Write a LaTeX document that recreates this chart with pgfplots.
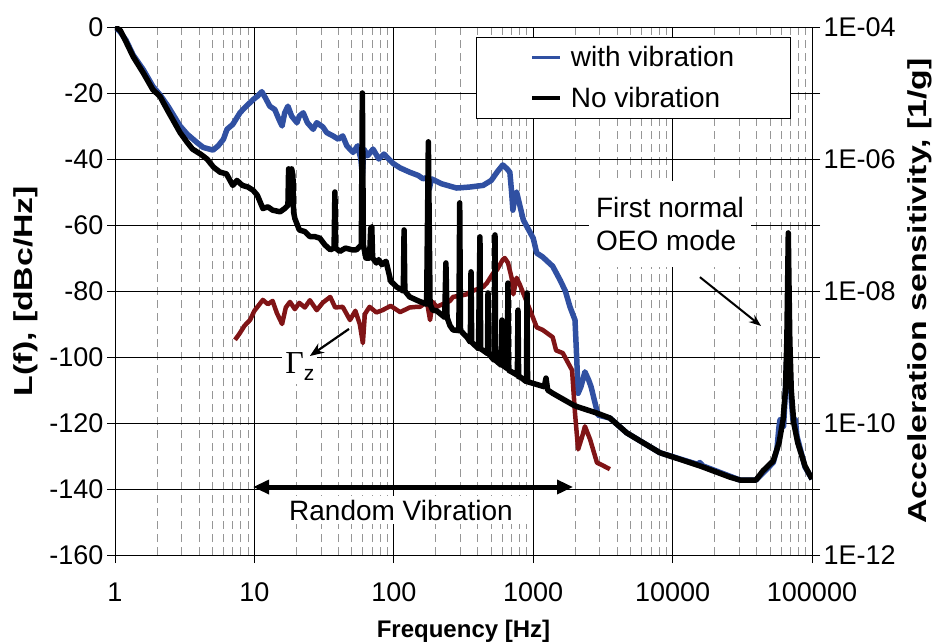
\documentclass[border=0pt]{standalone}
\usepackage{fontspec}
\setmainfont{Liberation Sans}
\newfontfamily\seriffont{Liberation Serif}
\usepackage{pgfplots}
\pgfplotsset{compat=1.18}
\usetikzlibrary{calc,arrows.meta}
\definecolor{vblue}{RGB}{48,80,162}
\definecolor{gred}{RGB}{128,20,22}
\definecolor{mgrid}{RGB}{150,150,150}
\begin{document}
\begin{tikzpicture}
\begin{axis}[
  name=main,
  scale only axis, width=697pt, height=528pt,
  xmode=log, xmin=1, xmax=100000, ymin=-160, ymax=0,
  xtick={1,10,100,1000,10000,100000},
  xticklabels={1,10,100,1000,10000,100000},
  ytick={-160,-140,-120,-100,-80,-60,-40,-20,0},
  yticklabels={-160,-140,-120,-100,-80,-60,-40,-20,0},
  /pgf/number format/assume math mode=true,
  xmajorgrids, xminorgrids, ymajorgrids,
  major grid style={black, line width=0.8pt},
  minor grid style={mgrid, dash pattern=on 8pt off 5pt, line width=0.8pt},
  tick align=outside, tick pos=left,
  major tick length=8pt, minor tick length=0pt,
  tick style={black, line width=0.8pt},
  axis line style={black, line width=0.8pt},
  ticklabel style={font=\fontsize{27}{30}\selectfont},
  xticklabel style={yshift=-16pt},
  legend style={at={(rel axis cs:0.518,0.981)}, anchor=north west,
    draw=black, line width=0.8pt, fill=white,
    font=\fontsize{28}{32}\selectfont,
    inner xsep=54pt, inner ysep=7pt, row sep=15pt},
  legend cell align=left,
  legend image code/.code={\draw[#1, line width=3.5pt, line cap=butt] (0pt,0pt) -- (28pt,0pt); \path (34pt,0pt);},
]
% with vibration
\addplot[vblue, line width=5.5pt, line join=round] coordinates {
(1,0) (1.09,-1.5) (1.2,-4) (1.35,-8.5) (1.6,-13) (1.87,-18) (2.1,-20.5) (2.4,-24)
(2.93,-30) (3.3,-32.5) (3.87,-35) (4.3,-36.5) (5.05,-37.3) (5.5,-36) (6.0,-34)
(6.36,-31) (7.0,-29.5) (7.88,-26) (8.5,-24.5) (9.8,-22) (10.5,-21) (11.3,-19.6)
(12,-21.5) (12.9,-24) (14,-25) (15,-28) (15.8,-30) (16.5,-26) (17.4,-24) (18.5,-27)
(20.2,-29) (21,-27) (22.4,-26) (24,-29) (26.4,-31) (28,-29) (31,-30.3) (33,-32)
(36.6,-33) (40,-34) (43,-33) (46,-36) (51,-38) (55,-36) (58,-40) (59.5,-45)
(61,-37) (65,-39) (71,-37) (78,-40) (85,-38.5) (98.6,-41.3) (111,-42.7) (130,-44)
(150,-45) (162,-46) (175,-45.5) (180,-49) (186,-46) (220,-47.5) (282,-48.8)
(350,-48.5) (437,-48) (500,-46.5) (550,-44) (605,-41.8) (650,-43) (680,-44)
(700,-50) (715,-55.5) (740,-51) (760,-50) (850,-58.5) (1000,-64) (1060,-68.5)
(1170,-69.7) (1380,-72.5) (1560,-76.7) (1700,-80) (1836,-84.8) (1995,-88.8)
(2050,-100) (2100,-111) (2200,-109) (2350,-104.5) (2500,-107) (2600,-109)
(2917,-117.6) (3550,-118.5) (4690,-123) (8100,-129) (15000,-132.5) (15700,-132)
(16500,-133) (30500,-137.3) (39600,-137.3) (52700,-132) (56000,-128) (58000,-121)
(59000,-119) (61000,-119) (62500,-121) (64000,-113) (67600,-90) (71000,-113)
(73000,-119) (76000,-119) (78000,-124) (89000,-133.3) (100000,-137)
};
\addlegendentry{with vibration}
% Gamma_z
\addplot[gred, line width=4.5pt, line join=round, forget plot] coordinates {
(7.26,-94.8) (7.8,-93) (8.5,-90.5) (9.3,-88.8) (10,-86) (11.5,-82.7) (12.5,-84)
(13.5,-83) (14.5,-86.7) (15.8,-90) (16.8,-85) (18,-83.3) (19.5,-85.5) (21,-83.6)
(23,-85) (25,-82.8) (28,-85.8) (31,-83.5) (35,-81.8) (38,-85) (43,-84.8)
(48.5,-88.8) (53,-86) (57,-90) (60,-95.8) (62,-87) (67,-84.8) (75,-86.5)
(83,-85.8) (95,-84.5) (111,-86.4) (130,-85) (146,-84.8) (154,-84.8) (173,-83.3)
(182,-88.8) (190,-83.3) (203,-84.8) (253,-83) (266,-81.8) (335,-81) (350,-80.3)
(437,-78.8) (465,-77.6) (518,-74.5) (550,-73.6) (605,-70.5) (625,-70) (660,-71.5)
(700,-76) (720,-81) (760,-76) (800,-78) (905,-83.6) (1060,-91) (1170,-91.8)
(1380,-94) (1460,-98) (1630,-98.8) (1900,-104) (1995,-117) (2100,-128)
(2250,-124) (2350,-121) (2560,-125) (2866,-132) (3200,-133) (3550,-134)
};
% no vibration
\addplot[black, line width=5.5pt, line join=round] coordinates {
(1,0) (1.09,-1) (1.2,-4.5) (1.35,-9) (1.6,-14) (1.87,-19) (2.1,-21) (2.4,-25.5)
(2.93,-32) (3.3,-35) (3.6,-37) (4.1,-38.5) (4.57,-40) (5.1,-42.5) (5.67,-44)
(6.3,-44.5) (7.0,-48) (7.5,-46.5) (8.2,-48) (9.0,-48.5) (9.8,-49.5) (10.5,-51)
(11.5,-55) (12.5,-54.5) (13.5,-55.5) (15.3,-56) (16.5,-55) (17.4,-54) (17.6,-43)
(18.1,-44.5) (18.5,-43) (18.9,-45) (19.1,-56) (19.5,-58) (21,-61.5) (23,-62)
(25,-63.5) (27,-63.5) (29.5,-64) (32,-66) (35,-67.5) (37.3,-67) (37.8,-50)
(38.3,-67) (41,-68) (45,-67) (50,-67.5) (54,-67.5) (58.5,-66) (59.5,-20)
(60.5,-66) (63,-70) (67,-70) (68.3,-61) (69.5,-60.5) (70.5,-70) (75,-71.5)
(78,-70.5) (82,-72) (88,-71) (95,-77) (105,-78.8) (117,-80) (118.5,-61.5)
(120,-80) (130,-81.8) (150,-83) (172,-84) (177,-34.8) (182,-84) (190,-85.8)
(203,-86) (232,-88) (236.5,-71.5) (241,-88) (253,-90.5) (266,-91.8) (293,-92)
(297,-53.3) (301,-92) (335,-94) (354,-95.5) (358,-74.2) (362,-95.5) (405,-97.5)
(415,-63.6) (420,-97.5) (465,-98.8) (470,-99) (474,-80.6) (478,-99) (525,-101)
(532,-63) (537,-101) (590,-102.5) (597,-88.8) (603,-102.5) (652,-103.5)
(659,-77.6) (666,-104) (700,-104.5) (770,-105.5) (778,-85.8) (786,-106)
(803,-106) (895,-107.5) (903,-80.6) (911,-107.5) (1000,-108) (1200,-109)
(1236,-106.4) (1270,-110) (1380,-111) (1930,-114.5) (2050,-115) (2866,-117)
(3550,-118.5) (4690,-123) (8100,-129) (15700,-133) (25800,-136.4) (30500,-137.3)
(39600,-137.3) (44500,-134.5) (52700,-131.5) (58000,-126) (62000,-119)
(64500,-110) (66000,-95) (67000,-75) (67600,-62.4) (68200,-75) (69300,-95)
(71000,-110) (74000,-120) (79000,-126) (89000,-133) (100000,-137)
};
\addlegendentry{No vibration}
% annotations
\node[fill=white, align=left, anchor=west, inner xsep=7pt, inner ysep=16pt,
  font=\fontsize{28}{33}\selectfont] at (axis cs:2510,-59.7) {First normal\\OEO mode};
\draw[-{Stealth[length=12pt,width=9pt]}, line width=2pt] (axis cs:15700,-75.8) -- (axis cs:43100,-90.6);
\node[fill=white, inner sep=3pt] at (axis cs:21.2,-103)
  {{\seriffont\fontsize{32}{34}\selectfont Γ}\raisebox{-7pt}{\fontsize{21}{24}\selectfont z}};
\draw[-{Stealth[length=14pt,width=11pt]}, line width=2.2pt] (axis cs:47.7,-91.5) -- (axis cs:25,-99.7);
\node[fill=white, inner xsep=14pt, inner ysep=4pt, font=\fontsize{28}{32}\selectfont]
  at (axis cs:112.6,-146.4) {Random Vibration};
\draw[{Triangle[length=16pt,width=14pt]}-{Triangle[length=16pt,width=14pt]}, line width=3.5pt]
  (axis cs:9.79,-139.4) -- (axis cs:1930,-139.4);
\end{axis}
\begin{axis}[
  scale only axis, width=697pt, height=528pt,
  xmode=log, xmin=1, xmax=100000, ymin=-160, ymax=0,
  axis x line=none, axis y line*=right,
  ytick={-160,-120,-80,-40,0},
  yticklabels={1E-12,1E-10,1E-08,1E-06,1E-04},
  minor ytick={-140,-100,-60,-20},
  tick align=outside,
  major tick length=8pt, minor tick length=8pt,
  tick style={black, line width=0.8pt},
  axis line style={black, line width=0.8pt},
  ticklabel style={font=\fontsize{27}{30}\selectfont},
]
\end{axis}
\node[rotate=90, font=\bfseries\fontsize{26}{30}\selectfont] at ($(main.west)+(-89pt,0)$)
  {\scalebox{1.3}[1]{L(f), [dBc/Hz]}};
\node[rotate=90, font=\bfseries\fontsize{26}{30}\selectfont] at ($(main.east)+(108pt,0)$)
  {\scalebox{1.3}[1]{Acceleration sensitivity, [1/g]}};
\node[font=\bfseries\fontsize{24}{28}\selectfont] at ($(main.south)+(0,-76pt)$) {Frequency [Hz]};
\pgfresetboundingbox
\path[use as bounding box] ($(main.south west)+(-115pt,-88pt)$) rectangle ($(main.north east)+(124pt,27pt)$);
\end{tikzpicture}
\end{document}
